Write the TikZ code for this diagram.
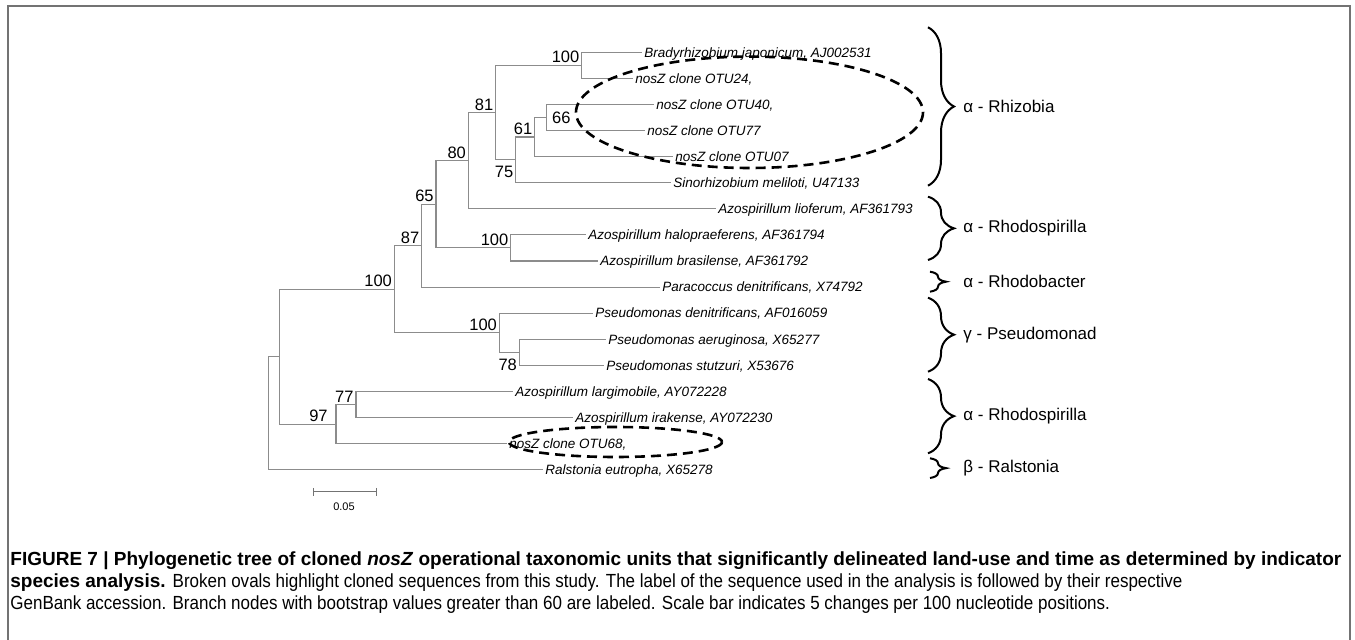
\documentclass[tikz,border=0pt]{standalone}
\usepackage{fontspec}
\setmainfont{Liberation Sans}
\newfontfamily\capfont[FakeStretch=0.895]{Liberation Sans}
\usetikzlibrary{decorations.pathreplacing}

\begin{document}
\begin{tikzpicture}[x=0.5pt,y=-0.5pt,
    branch/.style={draw=black!45, line width=0.55pt},
    leaf/.style={anchor=west, inner sep=1pt, text height=4.8pt, text depth=0pt,
      font=\fontsize{6.75pt}{8pt}\selectfont\itshape},
    boot/.style={anchor=south east, inner sep=1pt, font=\fontsize{8.25pt}{10pt}\selectfont},
    bootlow/.style={anchor=north east, inner sep=1pt, yshift=-2pt, font=\fontsize{8.25pt}{10pt}\selectfont},
    clade/.style={anchor=west, inner sep=0pt, font=\fontsize{8.5pt}{10pt}\selectfont},
    cladebrace/.style={decorate, decoration={brace, amplitude=#1}, line width=1pt},
    cladebrace/.default=13pt,
    clone/.style={line width=1.3pt, dash pattern=on 5pt off 3pt},
    capline/.style={anchor=base west, inner sep=0pt, font=\fontsize{9.5pt}{11pt}\selectfont},
  ]
  \useasboundingbox (0,0) rectangle (1355,640);
  \newcommand\taxon[4]{% {<name>}{<x>}{<y>}{<text>}
    \node[leaf] (#1) at (#2,#3) {#4};
  }

  % frame
  \draw[black!55, line width=1pt] (8,640) -- (8,6) -- (1350,6) -- (1350,640);

  % leaves
  \taxon{brady}{642}{52.3}{Bradyrhizobium japonicum, AJ002531}
  \taxon{otu24}{633}{78.3}{nosZ clone OTU24,}
  \taxon{otu40}{654}{104.4}{nosZ clone OTU40,}
  \taxon{otu77}{645}{130.5}{nosZ clone OTU77}
  \taxon{otu07}{673}{156.6}{nosZ clone OTU07}
  \taxon{sino}{671}{182.7}{Sinorhizobium meliloti, U47133}
  \taxon{lioferum}{716}{208.8}{Azospirillum lioferum, AF361793}
  \taxon{halo}{586}{234.9}{Azospirillum halopraeferens, AF361794}
  \taxon{brasil}{598}{261}{Azospirillum brasilense, AF361792}
  \taxon{paraco}{660}{287.1}{Paracoccus denitrificans, X74792}
  \taxon{pdenit}{593}{313.2}{Pseudomonas denitrificans, AF016059}
  \taxon{paerug}{606}{339.3}{Pseudomonas aeruginosa, X65277}
  \taxon{pstutz}{604}{365.4}{Pseudomonas stutzuri, X53676}
  \taxon{largi}{513}{391.5}{Azospirillum largimobile, AY072228}
  \taxon{irak}{573}{417.6}{Azospirillum irakense, AY072230}
  \taxon{otu68}{507}{443.7}{nosZ clone OTU68,}
  \taxon{ralst}{543}{469.8}{Ralstonia eutropha, X65278}

  % inner nodes
  \coordinate (n66) at (546.7,117.45);
  \coordinate (n61) at (534.7,137);
  \coordinate (n75) at (515.7,159.9);
  \coordinate (nb100) at (581.7,65.3);
  \coordinate (n81) at (495.7,112.6);
  \coordinate (n80) at (468.3,160.7);
  \coordinate (nh100) at (510.7,247.95);
  \coordinate (n65) at (436,204.3);
  \coordinate (n87) at (421.7,245.7);
  \coordinate (n78) at (519.3,352.35);
  \coordinate (np100) at (499.3,332.8);
  \coordinate (n100) at (394.3,289.25);
  \coordinate (n77) at (356,404.55);
  \coordinate (n97) at (336,424.1);
  \coordinate (nA) at (279.3,356.7);
  \coordinate (root) at (268.3,413.25);

  % branches
  \foreach \p/\c in {root/nA, root/ralst, nA/n100, nA/n97, n100/n87, n100/np100,
      n87/n65, n87/paraco, n65/n80, n65/nh100, n80/n81, n80/lioferum,
      n81/nb100, n81/n75, nb100/brady, nb100/otu24, n75/n61, n75/sino,
      n61/n66, n61/otu07, n66/otu40, n66/otu77, nh100/halo, nh100/brasil,
      np100/pdenit, np100/n78, n78/paerug, n78/pstutz, n97/n77, n97/otu68,
      n77/largi, n77/irak}
    \draw[branch] (\p) |- (\c);

  % bootstrap values
  \foreach \n/\v in {nb100/100, n81/81, n80/80, n61/61, n65/65, nh100/100,
      n87/87, n100/100, np100/100, n77/77}
    \node[boot] (bs-\n) at (\n) {\v};
  \node[boot, xshift=-3pt] (bs-n97) at (n97) {97};
  \node[bootlow] (bs-n75) at (n75) {75};
  \node[bootlow] (bs-n78) at (n78) {78};
  \node[boot, anchor=west, xshift=1.5pt] (bs-n66) at (n66) {66};

  % cloned sequences
  \draw[clone] (749.5,112.3) ellipse [x radius=173.5, y radius=55.7];
  \draw[clone] (615.5,442) ellipse [x radius=106.5, y radius=15];

  % groups
  \draw[cladebrace] (928,27.3) -- (928,185.7);
  \draw[cladebrace] (928,196.7) -- (928,260);
  \draw[cladebrace=8pt] (930,271.7) -- (930,291.7);
  \draw[cladebrace] (928,297.7) -- (928,371.7);
  \draw[cladebrace] (928,379) -- (928,453.3);
  \draw[cladebrace=8pt] (930,458.3) -- (930,478);
  \node[clade] (rhizobia) at (963,106.5) {α - Rhizobia};
  \node[clade] (rhodosp1) at (963,228.3) {α - Rhodospirilla};
  \node[clade] (rhodobac) at (963,281.7) {α - Rhodobacter};
  \node[clade] (pseudo) at (963,334.7) {γ - Pseudomonad};
  \node[clade] (rhodosp2) at (963,416) {α - Rhodospirilla};
  \node[clade] (ralstonia) at (963,468.2) {β - Ralstonia};

  % scale bar
  \coordinate (sb-a) at (313,492);
  \coordinate (sb-b) at (376,492);
  \draw[black!55, line width=0.5pt] (sb-a) -- (sb-b);
  \draw[black!55, line width=0.5pt] (sb-a) +(0,-4) -- +(0,4) (sb-b) +(0,-4) -- +(0,4);
  \node[font=\fontsize{5.5pt}{6pt}\selectfont, inner sep=0pt] (sb-lab) at (344,507) {0.05};

  % caption
  \node[capline] (cap1) at (10,566) {\bfseries FIGURE 7 | Phylogenetic tree of cloned \textit{nosZ} operational taxonomic units that significantly delineated land-use and time as determined by indicator};
  \node[capline] (cap2) at (10,588) {{\bfseries species analysis.} {\capfont Broken ovals highlight cloned sequences from this study. The label of the sequence used in the analysis is followed by their respective}};
  \node[capline] (cap3) at (10,610) {\capfont GenBank accession. Branch nodes with bootstrap values greater than 60 are labeled. Scale bar indicates 5 changes per 100 nucleotide positions.};
\end{tikzpicture}
\end{document}
